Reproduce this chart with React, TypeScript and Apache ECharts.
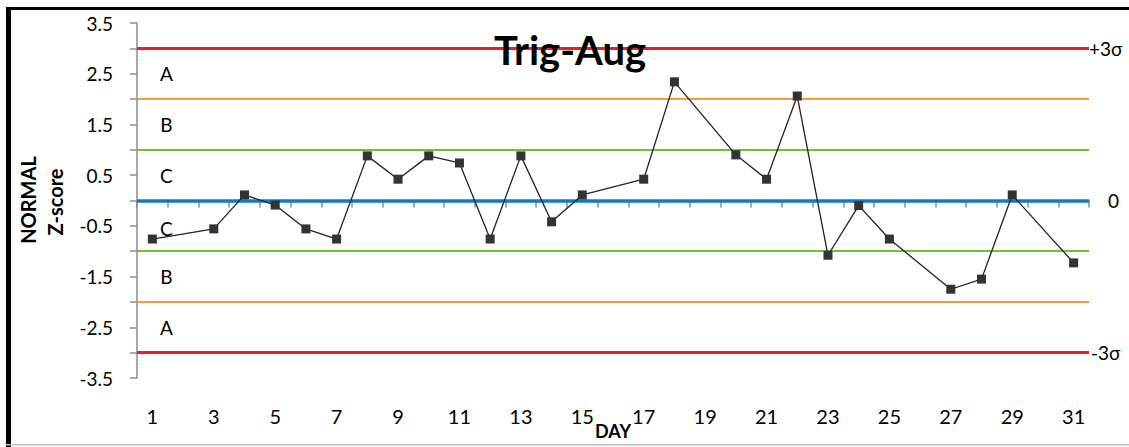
import React, { useEffect, useRef } from 'react';
import * as echarts from 'echarts';

const days = ['1', '2', '3', '4', '5', '6', '7', '8', '9', '10', '11', '12', '13', '14', '15', '16', '17', '18', '19', '20', '21', '22', '23', '24', '25', '26', '27', '28', '29', '30', '31'];
const zScores = [-0.76, null, -0.56, 0.11, -0.09, -0.56, -0.76, 0.88, 0.42, 0.88, 0.74, -0.76, 0.88, -0.42, 0.11, null, 0.42, 2.34, null, 0.9, 0.42, 2.06, -1.08, -0.1, -0.76, null, -1.75, -1.55, 0.11, null, -1.23];

const limitValues = [3, 2, 1, 0, -1, -2, -3];
const limitColors = ['#ec1c24', '#f99a3c', '#6cc134', '#0a7dc8', '#6cc134', '#f99a3c', '#ec1c24'];
const limitWidths = [3, 2, 2, 3.5, 2, 2, 3];
const limitLabels = ['+3σ', '', '', '0', '', '', '-3σ'];
const limitLabelGaps = [0, 0, 0, 19, 0, 0, 2];

const zoneLetters = ['A', 'B', 'C', 'C', 'B', 'A'];
const zoneCenters = [2.5, 1.5, 0.5, -0.55, -1.5, -2.5];

const FONT = 'Lato';

export default function App() {
  const ref = useRef<HTMLDivElement>(null);
  useEffect(() => {
    if (!ref.current) return;
    const chart = echarts.init(ref.current, null, { renderer: 'svg' });
    chart.setOption({
      animation: false,
      backgroundColor: '#fff',
      textStyle: { fontFamily: FONT },
      title: {
        text: 'Trig-Aug',
        left: 489,
        top: 25,
        textStyle: { fontFamily: FONT, fontSize: 40, fontWeight: 'bold', color: '#000' },
      },
      grid: { left: 137, right: 40, top: 23, bottom: 69, outerBoundsMode: 'none', containLabel: false },
      xAxis: {
        type: 'category',
        data: days,
        boundaryGap: true,
        name: 'DAY',
        nameLocation: 'middle',
        nameGap: 44,
        nameMoveOverlap: false,
        nameTextStyle: { fontFamily: FONT, fontSize: 18, lineHeight: 18, fontWeight: 'bold', color: '#000' },
        axisLine: { lineStyle: { color: '#8c8c8c', width: 1.5 } },
        axisTick: { show: true, interval: 0, length: 7, lineStyle: { color: '#8c8c8c', width: 1.5 } },
        axisLabel: { interval: 1, margin: 28, fontSize: 20, color: '#000', fontFamily: FONT },
        splitLine: { show: false },
      },
      yAxis: {
        type: 'value',
        min: -3.5,
        max: 3.5,
        interval: 0.5,
        axisLine: { show: true, lineStyle: { color: '#8c8c8c', width: 1.5 } },
        axisTick: { show: true, length: 7, lineStyle: { color: '#8c8c8c', width: 1.5 } },
        axisLabel: {
          margin: 24,
          fontSize: 19,
          color: '#000',
          fontFamily: FONT,
          formatter: (v: number) => (Math.abs(v * 2) % 2 === 1 ? v.toFixed(1) : ''),
        },
        splitLine: { show: false },
      },
      graphic: [
        { type: 'rect', shape: { x: 6, y: 7, width: 5, height: 440 }, style: { fill: '#000' } },
        { type: 'rect', shape: { x: 6, y: 7, width: 1123, height: 3 }, style: { fill: '#000' } },
        { type: 'rect', shape: { x: 6, y: 444, width: 1123, height: 1.5 }, style: { fill: '#bdbdbd' } },
        {
          type: 'text', x: 28, y: 200, rotation: Math.PI / 2,
          style: { text: 'NORMAL', fontFamily: FONT, fontSize: 20, fontWeight: 'bold', fill: '#000', align: 'center', verticalAlign: 'middle' },
        },
        {
          type: 'text', x: 55, y: 202, rotation: Math.PI / 2,
          style: { text: 'Z-score', fontFamily: FONT, fontSize: 20, fontWeight: 'bold', fill: '#000', align: 'center', verticalAlign: 'middle' },
        },
      ],
      series: [
        {
          type: 'line',
          data: [],
          silent: true,
          markLine: {
            silent: true,
            symbol: ['none', 'none'],
            data: limitValues.map((v, i) => ({
              yAxis: v,
              lineStyle: { color: limitColors[i], width: limitWidths[i], type: 'solid' },
              label: {
                show: limitLabels[i] !== '',
                formatter: limitLabels[i],
                position: 'end',
                distance: limitLabelGaps[i],
                fontSize: 19,
                fontFamily: FONT,
                color: '#000',
              },
            })),
          },
          markPoint: {
            silent: true,
            symbol: 'circle',
            symbolSize: 0,
            data: zoneLetters.map((t, i) => ({
              coord: [0, zoneCenters[i]],
              label: {
                show: true,
                formatter: t,
                offset: [14, 0],
                fontSize: 19,
                fontFamily: FONT,
                color: '#000',
              },
            })),
          },
        },
        {
          type: 'line',
          data: zScores,
          connectNulls: true,
          symbol: 'rect',
          symbolSize: 9,
          itemStyle: { color: '#333' },
          lineStyle: { color: '#222', width: 1.3 },
          z: 5,
        },
      ],
    });
    return () => chart.dispose();
  }, []);
  return <div ref={ref} style={{ position: 'absolute', left: 0, top: 0, width: 1129, height: 447 }} />;
}
